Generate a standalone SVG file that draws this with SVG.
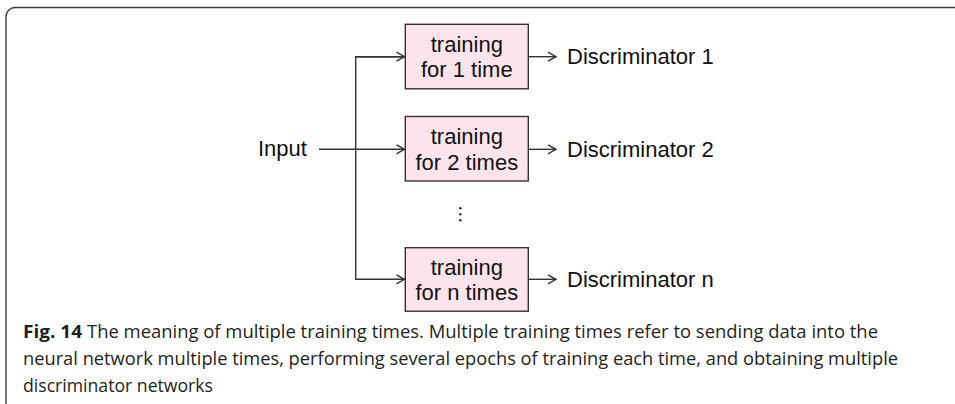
<svg xmlns="http://www.w3.org/2000/svg" width="955" height="404" viewBox="0 0 955 404">
  <style>
    .frame { fill: #ffffff; stroke: #3a3a3a; stroke-width: 1.4; }
    .box { fill: #fde4ec; stroke: #333333; stroke-width: 1.4; }
    .lbl { font-family: "Liberation Sans", Arial, sans-serif; font-size: 22px; fill: #111111; }
    .ctr { text-anchor: middle; }
    .conn { fill: none; stroke: #333333; stroke-width: 1.4; }
    .cap { font-family: "Open Sans", "Noto Sans", sans-serif; font-size: 18.5px; fill: #231f20; }
    .capb { font-weight: bold; }
  </style>
  <defs>
    <marker id="arr" markerUnits="userSpaceOnUse" markerWidth="12" markerHeight="12" refX="9" refY="6" orient="auto">
      <path d="M1,1.5 L9,6 L1,10.5" fill="none" stroke="#333333" stroke-width="1.4"/>
    </marker>
  </defs>
  <rect class="frame" x="6" y="7.5" width="965" height="410" rx="9" ry="9"/>

  <g id="connectors">
    <line class="conn" x1="319" y1="149.3" x2="404.5" y2="149.3" marker-end="url(#arr)"/>
    <path class="conn" d="M404.5,56.7 H355.7 V279.3 H404.5" marker-end="url(#arr)"/>
    <line class="conn" x1="355.7" y1="56.7" x2="404.5" y2="56.7" marker-end="url(#arr)"/>
    <line class="conn" x1="528" y1="56.7" x2="556" y2="56.7" marker-end="url(#arr)"/>
    <line class="conn" x1="528" y1="149.3" x2="556" y2="149.3" marker-end="url(#arr)"/>
    <line class="conn" x1="528" y1="279.3" x2="556" y2="279.3" marker-end="url(#arr)"/>
  </g>

  <g id="input">
    <text class="lbl" x="258" y="156">Input</text>
  </g>

  <g id="train1">
    <rect class="box" x="405.3" y="24.3" width="123" height="64.5"/>
    <text class="lbl ctr" x="466.8" y="51.5">training</text>
    <text class="lbl ctr" x="466.8" y="77.3">for 1 time</text>
  </g>
  <g id="train2">
    <rect class="box" x="405.3" y="116.5" width="123" height="64.5"/>
    <text class="lbl ctr" x="466.8" y="144">training</text>
    <text class="lbl ctr" x="466.8" y="169.8">for 2 times</text>
  </g>
  <g id="ellipsis">
    <circle cx="460.3" cy="208.3" r="1.3" fill="#333"/>
    <circle cx="460.3" cy="214.3" r="1.3" fill="#333"/>
    <circle cx="460.3" cy="220.3" r="1.3" fill="#333"/>
  </g>
  <g id="trainn">
    <rect class="box" x="405.3" y="247.7" width="123" height="63.5"/>
    <text class="lbl ctr" x="466.8" y="274.5">training</text>
    <text class="lbl ctr" x="466.8" y="300">for n times</text>
  </g>

  <g id="disc1">
    <text class="lbl" x="567" y="64">Discriminator 1</text>
  </g>
  <g id="disc2">
    <text class="lbl" x="567" y="156.5">Discriminator 2</text>
  </g>
  <g id="discn">
    <text class="lbl" x="567" y="287.3">Discriminator n</text>
  </g>

  <g id="caption">
    <text class="cap capb" x="23" y="338.3" textLength="59" lengthAdjust="spacingAndGlyphs">Fig. 14</text>
    <text class="cap" x="87" y="338.3" textLength="791" lengthAdjust="spacingAndGlyphs">The meaning of multiple training times. Multiple training times refer to sending data into the</text>
    <text class="cap" x="23" y="365" textLength="875" lengthAdjust="spacingAndGlyphs">neural network multiple times, performing several epochs of training each time, and obtaining multiple</text>
    <text class="cap" x="23" y="391.7" textLength="190" lengthAdjust="spacingAndGlyphs">discriminator networks</text>
  </g>
</svg>
